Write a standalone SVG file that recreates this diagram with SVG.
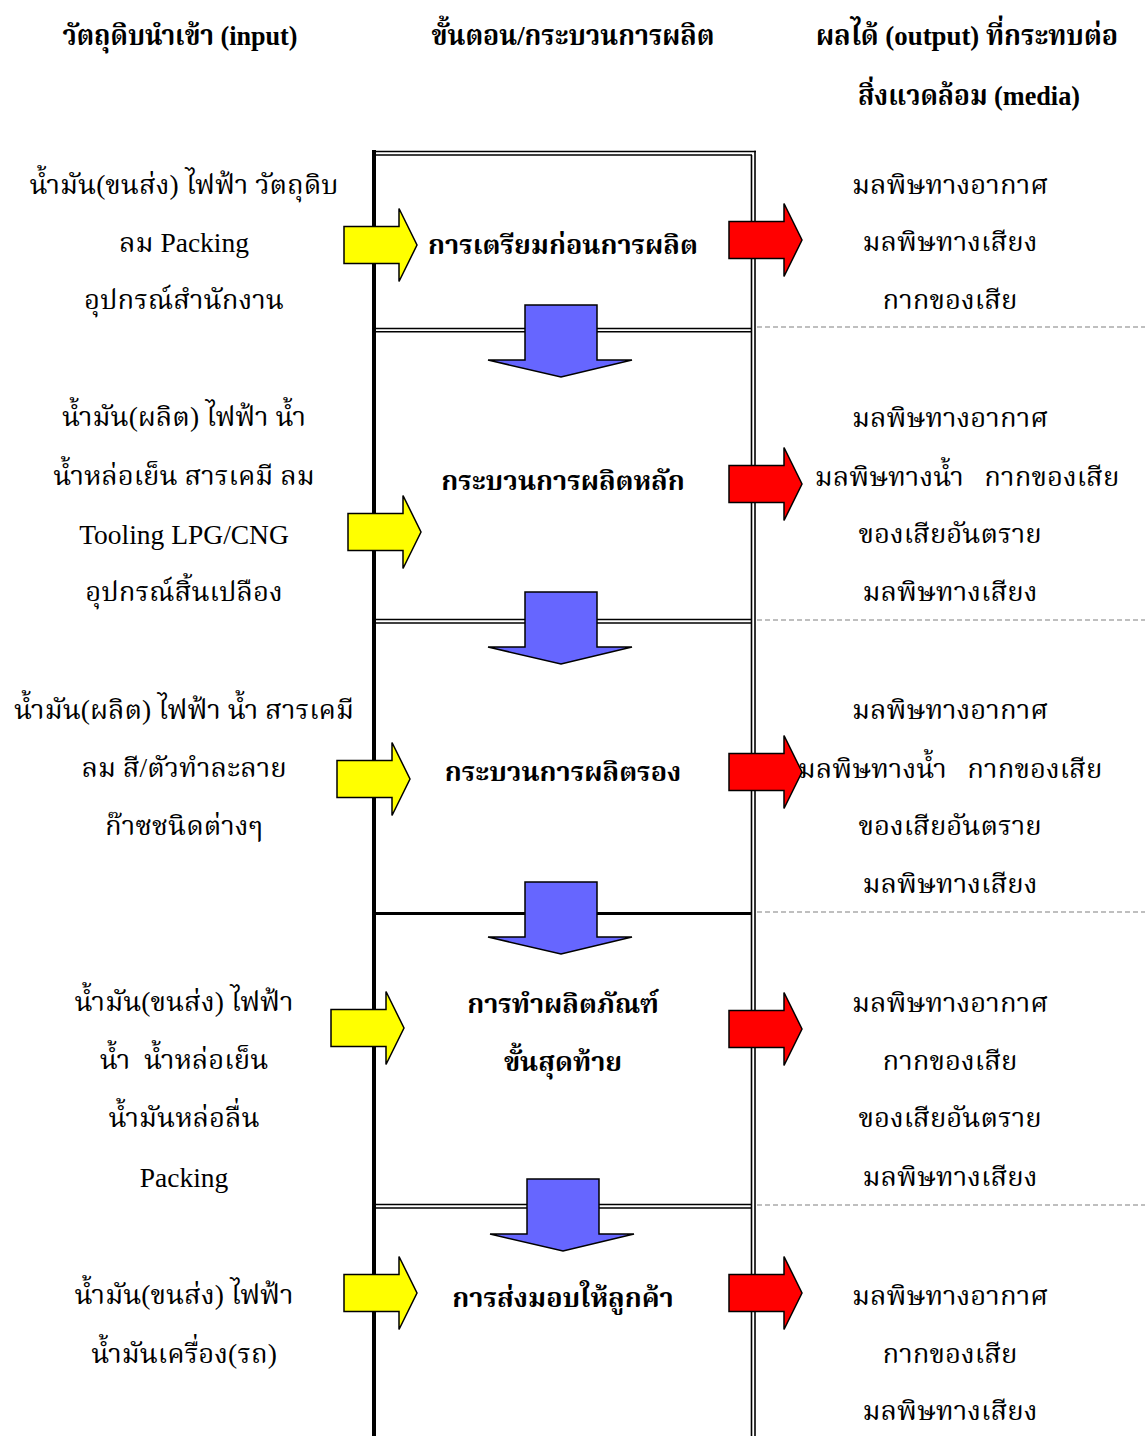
<svg xmlns="http://www.w3.org/2000/svg" width="1145" height="1436" viewBox="0 0 1145 1436">
  <style>
    text { font-family: "Liberation Serif", "Noto Serif Thai", "Noto Sans Thai", serif; fill: #000; text-anchor: middle; }
    .hd { font-size: 28px; font-weight: bold; }
    .tx { font-size: 27.5px; }
    .st { font-size: 27px; font-weight: bold; }
    .pre { white-space: pre; }
    .frame { stroke: #000; fill: none; }
    .dash { stroke: #808080; stroke-width: 1.2; stroke-dasharray: 5 3; fill: none; }
    .in { fill: #FFFF00; stroke: #000; stroke-width: 1.5; stroke-linejoin: miter; }
    .out { fill: #FF0000; stroke: #000; stroke-width: 1.5; stroke-linejoin: miter; }
    .down { fill: #6666FF; stroke: #000; stroke-width: 1.5; stroke-linejoin: miter; }
  </style>
  <defs>
    <!-- right-pointing block arrow, origin at shaft left / centre line -->
    <path id="rArrow" d="M0,-18.5 H55 V-36.5 L73,0 L55,36.5 V18.5 H0 Z"/>
    <!-- downward block arrow, origin at shaft top centre -->
    <path id="dArrow" d="M-36,0 H36 V55 H71 L0,72 L-73,55 H-36 Z"/>
  </defs>

  <rect width="1145" height="1436" fill="#fff"/>

  <!-- column headings -->
  <g id="headings">
    <text class="hd" x="180" y="45" textLength="235" lengthAdjust="spacingAndGlyphs">วัตถุดิบนำเข้า (input)</text>
    <text class="hd" x="573" y="45" textLength="283" lengthAdjust="spacingAndGlyphs">ขั้นตอน/กระบวนการผลิต</text>
    <text class="hd" x="967" y="45" textLength="302" lengthAdjust="spacingAndGlyphs">ผลได้ (output) ที่กระทบต่อ</text>
    <text class="hd" x="969" y="105" textLength="222" lengthAdjust="spacingAndGlyphs">สิ่งแวดล้อม (media)</text>
  </g>

  <!-- process column frame -->
  <g id="frame" class="frame">
    <line x1="374" y1="150" x2="374" y2="1436" stroke-width="4"/>
    <line x1="372" y1="151.5" x2="756" y2="151.5" stroke-width="1.6"/>
    <line x1="376" y1="155" x2="752" y2="155" stroke-width="1.6"/>
    <line x1="755" y1="150.7" x2="755" y2="1436" stroke-width="1.6"/>
    <line x1="751.5" y1="155" x2="751.5" y2="1436" stroke-width="1.6"/>
    <!-- stage dividers -->
    <line x1="376" y1="328.5" x2="751.5" y2="328.5" stroke-width="1.6"/>
    <line x1="376" y1="331.8" x2="751.5" y2="331.8" stroke-width="1.6"/>
    <line x1="376" y1="619.5" x2="751.5" y2="619.5" stroke-width="1.6"/>
    <line x1="376" y1="623" x2="751.5" y2="623" stroke-width="1.6"/>
    <line x1="376" y1="913.5" x2="751.5" y2="913.5" stroke-width="3"/>
    <line x1="376" y1="1204.5" x2="751.5" y2="1204.5" stroke-width="1.6"/>
    <line x1="376" y1="1208" x2="751.5" y2="1208" stroke-width="1.6"/>
  </g>

  <!-- dashed guides across the output column -->
  <g id="guides" class="dash">
    <line x1="757" y1="327" x2="1145" y2="327"/>
    <line x1="757" y1="620" x2="1145" y2="620"/>
    <line x1="757" y1="912" x2="1145" y2="912"/>
    <line x1="757" y1="1205" x2="1145" y2="1205"/>
  </g>

  <!-- connectors: flow between stages, inputs and outputs -->
  <g id="connectors">
    <use href="#dArrow" class="down" x="561" y="305"/>
    <use href="#dArrow" class="down" x="561" y="592"/>
    <use href="#dArrow" class="down" x="561" y="882"/>
    <use href="#dArrow" class="down" x="563" y="1179"/>

    <use href="#rArrow" class="in" x="344" y="245"/>
    <use href="#rArrow" class="in" x="348" y="532"/>
    <use href="#rArrow" class="in" x="337" y="779"/>
    <use href="#rArrow" class="in" x="331" y="1028"/>
    <use href="#rArrow" class="in" x="344" y="1293"/>

    <use href="#rArrow" class="out" x="729" y="240"/>
    <use href="#rArrow" class="out" x="729" y="484"/>
    <use href="#rArrow" class="out" x="729" y="772"/>
    <use href="#rArrow" class="out" x="729" y="1029"/>
    <use href="#rArrow" class="out" x="729" y="1293"/>
  </g>

  <!-- stage 1 -->
  <g id="stage1">
    <text class="tx" x="184" y="194">น้ำมัน(ขนส่ง) ไฟฟ้า วัตถุดิบ</text>
    <text class="tx" x="184" y="252">ลม Packing</text>
    <text class="tx" x="184" y="309">อุปกรณ์สำนักงาน</text>
    <text class="st" x="563" y="254">การเตรียมก่อนการผลิต</text>
    <text class="tx" x="950" y="194">มลพิษทางอากาศ</text>
    <text class="tx" x="950" y="251">มลพิษทางเสียง</text>
    <text class="tx" x="950" y="309">กากของเสีย</text>
  </g>

  <!-- stage 2 -->
  <g id="stage2">
    <text class="tx" x="184" y="426">น้ำมัน(ผลิต) ไฟฟ้า น้ำ</text>
    <text class="tx" x="184" y="485">น้ำหล่อเย็น สารเคมี ลม</text>
    <text class="tx" x="184" y="544">Tooling LPG/CNG</text>
    <text class="tx" x="184" y="601">อุปกรณ์สิ้นเปลือง</text>
    <text class="st" x="563" y="490">กระบวนการผลิตหลัก</text>
    <text class="tx" x="950" y="427">มลพิษทางอากาศ</text>
    <text class="tx pre" x="967" y="486" xml:space="preserve">มลพิษทางน้ำ   กากของเสีย</text>
    <text class="tx" x="950" y="543">ของเสียอันตราย</text>
    <text class="tx" x="950" y="601">มลพิษทางเสียง</text>
  </g>

  <!-- stage 3 -->
  <g id="stage3">
    <text class="tx" x="184" y="719">น้ำมัน(ผลิต) ไฟฟ้า น้ำ สารเคมี</text>
    <text class="tx" x="184" y="777">ลม สี/ตัวทำละลาย</text>
    <text class="tx" x="184" y="835">ก๊าซชนิดต่างๆ</text>
    <text class="st" x="563" y="781">กระบวนการผลิตรอง</text>
    <text class="tx" x="950" y="719">มลพิษทางอากาศ</text>
    <text class="tx pre" x="950" y="778" xml:space="preserve">มลพิษทางน้ำ   กากของเสีย</text>
    <text class="tx" x="950" y="835">ของเสียอันตราย</text>
    <text class="tx" x="950" y="893">มลพิษทางเสียง</text>
  </g>

  <!-- stage 4 -->
  <g id="stage4">
    <text class="tx" x="184" y="1011">น้ำมัน(ขนส่ง) ไฟฟ้า</text>
    <text class="tx pre" x="184" y="1069" xml:space="preserve">น้ำ  น้ำหล่อเย็น</text>
    <text class="tx" x="184" y="1127">น้ำมันหล่อลื่น</text>
    <text class="tx" x="184" y="1187">Packing</text>
    <text class="st" x="563" y="1013">การทำผลิตภัณฑ์</text>
    <text class="st" x="563" y="1071">ขั้นสุดท้าย</text>
    <text class="tx" x="950" y="1012">มลพิษทางอากาศ</text>
    <text class="tx" x="950" y="1070">กากของเสีย</text>
    <text class="tx" x="950" y="1127">ของเสียอันตราย</text>
    <text class="tx" x="950" y="1186">มลพิษทางเสียง</text>
  </g>

  <!-- stage 5 -->
  <g id="stage5">
    <text class="tx" x="184" y="1304">น้ำมัน(ขนส่ง) ไฟฟ้า</text>
    <text class="tx" x="184" y="1363">น้ำมันเครื่อง(รถ)</text>
    <text class="st" x="563" y="1307">การส่งมอบให้ลูกค้า</text>
    <text class="tx" x="950" y="1305">มลพิษทางอากาศ</text>
    <text class="tx" x="950" y="1363">กากของเสีย</text>
    <text class="tx" x="950" y="1420">มลพิษทางเสียง</text>
  </g>
</svg>
